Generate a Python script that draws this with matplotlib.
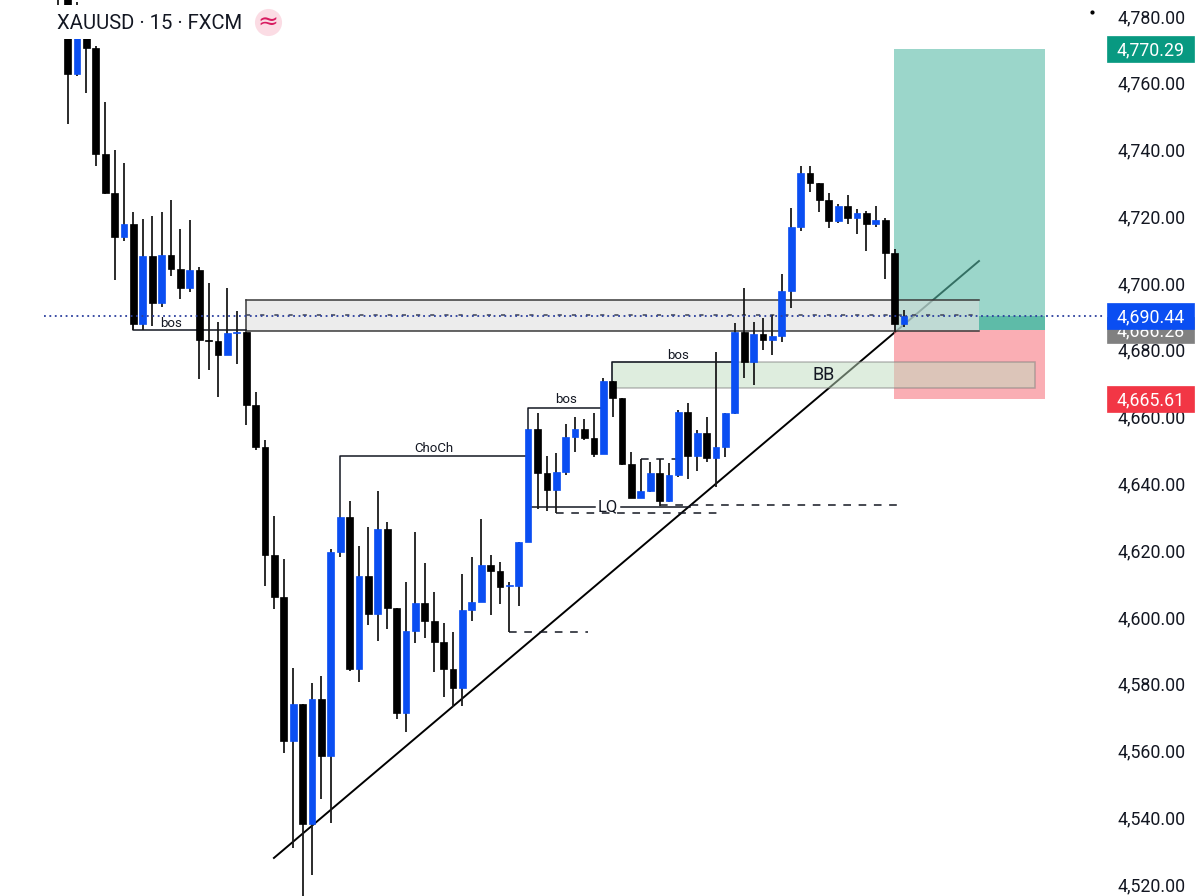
"""XAUUSD 15m candlestick chart with zones, structure labels and a long position box."""

import matplotlib
matplotlib.use("Agg")
import matplotlib.pyplot as plt
from matplotlib.patches import Rectangle

plt.rcParams["font.family"] = ["Roboto", "DejaVu Sans"]

# candle data (price), blue candles close above open
opens = [
    4786.0, 4762.9, 4775.0, 4770.6, 4739.0, 4727.3, 4714.1, 4718.0, 4688.0, 4708.4,
    4694.3, 4708.7, 4704.5, 4698.8, 4704.2, 4683.2, 4682.9, 4678.8, 4685.3, 4685.6,
    4663.8, 4651.2, 4618.8, 4606.3, 4563.1, 4574.2, 4538.3, 4575.7, 4558.6, 4619.7,
    4630.2, 4584.7, 4612.6, 4601.2, 4626.6, 4603.0, 4571.5, 4596.1, 4604.5, 4599.1,
    4592.8, 4584.7, 4579.0, 4602.4, 4604.8, 4615.8, 4614.1, 4609.6, 4609.6, 4622.7,
    4656.6, 4643.4, 4638.3, 4643.7, 4654.2, 4656.6, 4653.9, 4649.1, 4671.0, 4665.9,
    4646.1, 4635.9, 4638.0, 4643.4, 4635.0, 4642.8, 4661.7, 4648.5, 4655.4, 4647.9,
    4651.2, 4661.4, 4685.6, 4676.7, 4685.0, 4683.2, 4684.4, 4697.9, 4717.1, 4733.3,
    4730.3, 4725.2, 4718.9, 4723.4, 4719.8, 4721.3, 4718.0, 4719.2, 4709.3, 4688.0,
]
highs = [
    4786.0, 4784.5, 4778.0, 4771.3, 4754.5, 4740.2, 4736.3, 4721.6, 4719.5, 4720.4,
    4721.6, 4725.2, 4716.5, 4719.2, 4705.1, 4700.3, 4688.6, 4698.8, 4691.9, 4685.6,
    4667.7, 4653.3, 4630.5, 4617.6, 4585.0, 4574.2, 4580.5, 4582.6, 4620.6, 4630.2,
    4635.0, 4621.5, 4627.2, 4638.0, 4628.7, 4603.0, 4610.8, 4625.7, 4616.4, 4607.8,
    4598.5, 4595.8, 4613.2, 4618.2, 4629.6, 4618.8, 4616.8, 4610.8, 4622.7, 4656.6,
    4661.4, 4648.5, 4649.4, 4658.1, 4660.2, 4659.6, 4661.4, 4671.9, 4671.0, 4665.9,
    4649.7, 4647.6, 4646.7, 4647.6, 4646.4, 4662.3, 4664.4, 4656.3, 4660.2, 4679.7,
    4661.4, 4688.4, 4698.8, 4688.6, 4689.8, 4690.7, 4703.0, 4722.8, 4735.4, 4735.4,
    4730.3, 4727.3, 4724.0, 4726.7, 4722.5, 4721.9, 4723.4, 4719.8, 4710.5, 4692.2,
]
lows = [
    4748.0, 4762.3, 4757.2, 4735.4, 4727.0, 4701.2, 4712.9, 4686.2, 4686.2, 4687.4,
    4693.1, 4702.4, 4695.5, 4697.6, 4671.6, 4674.3, 4666.2, 4678.8, 4676.1, 4657.8,
    4650.3, 4609.6, 4602.7, 4559.5, 4531.1, 4515.5, 4523.0, 4545.8, 4538.6, 4618.2,
    4584.1, 4580.8, 4597.9, 4593.1, 4596.7, 4569.7, 4565.8, 4592.5, 4594.0, 4583.8,
    4576.3, 4573.3, 4573.6, 4599.1, 4604.8, 4600.9, 4604.2, 4595.8, 4603.6, 4622.7,
    4632.6, 4632.0, 4631.4, 4642.8, 4649.7, 4653.3, 4648.2, 4649.1, 4660.2, 4645.8,
    4635.9, 4635.9, 4637.7, 4633.5, 4634.7, 4642.2, 4641.6, 4644.0, 4646.7, 4639.2,
    4648.2, 4661.1, 4671.9, 4669.8, 4680.3, 4678.8, 4682.6, 4692.8, 4715.9, 4727.6,
    4721.6, 4716.8, 4718.3, 4718.0, 4715.0, 4709.9, 4717.1, 4701.5, 4685.6, 4687.1,
]
closes = [
    4762.9, 4775.0, 4770.6, 4739.0, 4727.3, 4714.1, 4718.0, 4688.0, 4708.4, 4694.3,
    4708.7, 4704.5, 4698.8, 4704.2, 4683.2, 4682.9, 4678.8, 4685.3, 4685.6, 4663.8,
    4651.2, 4618.8, 4606.3, 4563.1, 4574.2, 4538.3, 4575.7, 4558.6, 4619.7, 4630.2,
    4584.7, 4612.6, 4601.2, 4626.6, 4603.0, 4571.5, 4596.1, 4604.5, 4599.1, 4592.8,
    4584.7, 4579.0, 4602.4, 4604.8, 4615.8, 4614.1, 4609.3, 4609.9, 4622.7, 4656.6,
    4643.4, 4638.3, 4643.7, 4654.2, 4656.6, 4653.9, 4649.1, 4671.0, 4665.9, 4646.1,
    4635.9, 4638.0, 4643.4, 4635.0, 4642.8, 4661.7, 4648.5, 4655.4, 4647.9, 4651.2,
    4661.4, 4685.6, 4676.7, 4685.0, 4683.2, 4684.4, 4697.9, 4717.1, 4733.3, 4730.3,
    4725.2, 4718.9, 4723.4, 4719.8, 4721.3, 4718.0, 4719.2, 4709.3, 4688.0, 4690.44,
]

y_ticks = [4780, 4760, 4740, 4720, 4700, 4680, 4660, 4640, 4620, 4600, 4580, 4560, 4540, 4520]
last_price = 4690.44
entry_price = 4686.28
target_price = 4770.29
stop_price = 4665.61

BLUE = "#0A4EF2"
BLACK = "#000000"
INK = "#131722"
TEXT_DY = -0.3  # centre of Roboto digits sits a little high

fig = plt.figure(figsize=(12, 8.96), dpi=100)
ax = fig.add_axes([0, 0, 1, 1])
ax.set_xlim(-7.2, 120.5)
ax.set_ylim(4516.7, 4785.09)
ax.axis("off")

# trend line sits under the position box
ax.plot([21.95, 96.98], [4528.1, 4706.9], color=BLACK, lw=1.4, zorder=2)

# position box
ax.add_patch(Rectangle((87.93, entry_price), 16.07, target_price - entry_price,
                       facecolor="#58BBA7", edgecolor="none", zorder=2.5, alpha=0.6))
ax.add_patch(Rectangle((87.93, stop_price), 16.07, entry_price - stop_price,
                       facecolor="#F87882", edgecolor="none", zorder=2.5, alpha=0.6))
ax.add_patch(Rectangle((96.98, entry_price), 7.02, last_price - entry_price, facecolor="#5EBBA8",
                       edgecolor="none", zorder=2.6))

# supply zone and BB zone
ax.add_patch(Rectangle((19, 4685.9), 77.98, 9.3, facecolor="#DEDEDE", alpha=0.55,
                       edgecolor="none", zorder=3))
ax.plot([19, 19], [4685.9, 4695.2], color="#3A3A3A", lw=1.1, zorder=3.1)
ax.plot([19, 96.98], [4695.2, 4695.2], color="#3A3A3A", lw=1.1, zorder=3.1)
ax.plot([19, 96.98], [4685.9, 4685.9], color="#3A3A3A", lw=1.1, zorder=3.1)
ax.plot([19, 96.98], [4690.7, 4690.7], color="#4A4F60", lw=1.2, ls=(0, (2.5, 6)), zorder=3.1)
ax.add_patch(Rectangle((57.9, 4668.9), 102.9 - 57.9, 7.8, facecolor="#BFDDBF", alpha=0.5,
                       edgecolor="#7A7A7A", lw=1.1, zorder=3))
ax.text(80.4, 4672.8, "BB", fontsize=13, color=INK, ha="center", va="center", zorder=5)

# candles
xs = list(range(len(opens)))
bottoms = [min(o, c) for o, c in zip(opens, closes)]
heights = [abs(o - c) for o, c in zip(opens, closes)]
colors = [BLUE if c > o else BLACK for o, c in zip(opens, closes)]
ax.vlines(xs, lows, highs, color="#1A1A1A", lw=1.3, zorder=4)
ax.vlines([-1], 4783.6, 4786, color="#1A1A1A", lw=1.3, zorder=7)  # wick of the candle before
ax.bar(xs, heights, bottom=bottoms, width=0.72, color=colors, edgecolor=colors, lw=0.5, zorder=4.5)

# structure annotations
ax.plot([7, 7, 19], [4688.0, 4686.2, 4686.2], color=INK, lw=1.1, zorder=3.5)
ax.text(11.0, 4688.3, "bos", fontsize=9.5, color=INK, ha="center", va="center", zorder=5)
ax.plot([29, 29, 49], [4630.2, 4648.5, 4648.5], color=INK, lw=1.1, zorder=3.5)
ax.text(39, 4650.6, "ChoCh", fontsize=9.5, color=INK, ha="center", va="center", zorder=5)
ax.plot([49, 49, 57], [4656.6, 4662.9, 4662.9], color=INK, lw=1.1, zorder=3.5)
ax.text(53, 4665.3, "bos", fontsize=9.5, color=INK, ha="center", va="center", zorder=5)
ax.plot([57.9, 57.9, 71], [4671.0, 4676.7, 4676.7], color=INK, lw=1.1, zorder=3.5)
ax.text(65, 4678.5, "bos", fontsize=9.5, color=INK, ha="center", va="center", zorder=5)

# LQ sweep lines
ax.plot([49.4, 56.1], [4633.2, 4633.2], color=INK, lw=1.1, zorder=3.5)
ax.text(57.5, 4633.3, "LQ", fontsize=12, color=INK, ha="center", va="center", zorder=5)
ax.plot([58.9, 66.2], [4633.2, 4633.2], color=INK, lw=1.1, zorder=3.5)
ax.plot([63, 89], [4633.8, 4633.8], color=INK, lw=1.1, ls=(0, (5, 5)), zorder=3.5)
ax.plot([52, 69.3], [4631.4, 4631.4], color=INK, lw=1.1, ls=(0, (5, 5)), zorder=3.5)
ax.plot([61, 65], [4647.6, 4647.6], color=INK, lw=1.1, ls=(0, (5, 5)), zorder=3.5)
ax.plot([47, 55.4], [4595.8, 4595.8], color=INK, lw=1.1, ls=(0, (5, 5)), zorder=3.5)

# last price line
ax.plot([-2.5, 110.4], [last_price, last_price], color="#2B3F9E", lw=1.3, ls=(0, (1, 2)), zorder=5)

# price scale
for p in y_ticks:
    ax.text(1152 / 9.397 - 7.2, p + TEXT_DY, f"{p:,.2f}", fontsize=12.8, color=INK,
            ha="center", va="center", zorder=6)


def price_tag(price, face, height=7.8, z=7):
    y0 = price - height / 2
    ax.add_patch(Rectangle((110.6, y0), 9.26, height, facecolor=face,
                           edgecolor=face, lw=0.5, zorder=z))
    ax.text(1150.5 / 9.397 - 7.2, price + TEXT_DY, f"{price:,.2f}", fontsize=12.8, color="white",
            ha="center", va="center", zorder=z)


price_tag(target_price, "#089981")
price_tag(stop_price, "#F23645")
price_tag(entry_price, "#808080")
price_tag(last_price, BLUE, z=8)

# header over the top candles
ax.add_patch(Rectangle((-7.2, 4773.4), 40, 10.2, facecolor="white", edgecolor="none", zorder=6))
ax.text(-1.1, 4778.2, "XAUUSD · 15 · FXCM", fontsize=14.6, color=INK, ha="left", va="center", zorder=7)
ax.plot([268 / 9.397 - 7.2], [4778.4], marker="o", ms=19.5, color="#FBDCE4", mec="none", zorder=7)
ax.text(268 / 9.397 - 7.2, 4778.4, "≈", fontsize=18, color="#D81B60", ha="center", va="center",
        family=["DejaVu Sans"], zorder=8)
ax.plot([1092 / 9.397 - 7.2], [4781.5], marker="o", ms=2, color=BLACK, zorder=7)

fig.savefig("out.png", dpi=100)
